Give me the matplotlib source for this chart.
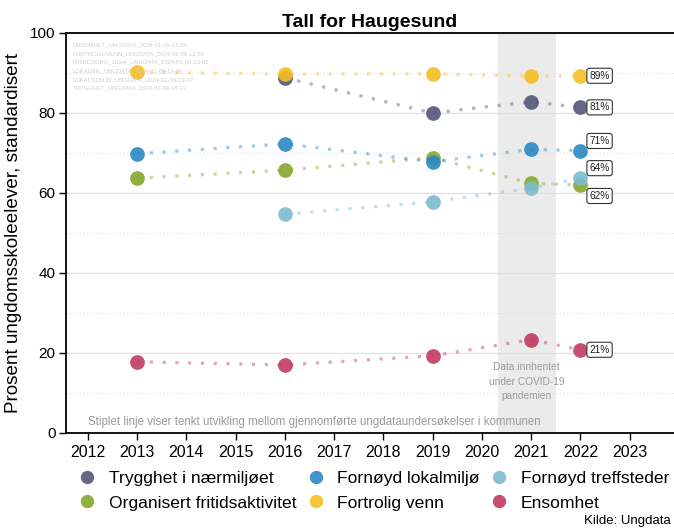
import matplotlib
matplotlib.use("Agg")
import matplotlib.pyplot as plt
from matplotlib.lines import Line2D

plt.rcParams["font.family"] = ["Liberation Sans", "DejaVu Sans"]

# survey years and series (percent, standardised)
years_a = [2013, 2016, 2019, 2021, 2022]
years_b = [2016, 2019, 2021, 2022]

trygghet = [88.8, 80.0, 82.8, 81.4]          # 2016..2022
organisert = [63.7, 65.7, 68.8, 62.4, 62.0]  # 2013..2022
lokalmiljo = [69.8, 72.3, 67.8, 70.9, 70.6]
fortrolig = [90.2, 89.7, 89.8, 89.2, 89.2]
treffsteder = [54.7, 57.8, 61.2, 63.7]       # 2016..2022
ensomhet = [17.8, 17.0, 19.3, 23.3, 20.8]

series_names = ["Trygghet i nærmiljøet", "Organisert fritidsaktivitet",
                "Fornøyd lokalmiljø", "Fortrolig venn",
                "Fornøyd treffsteder", "Ensomhet"]
end_labels = ["81%", "62%", "71%", "89%", "64%", "21%"]

watermark = [
    "ENSOMHET_UNGDATA_2024-01-09-12-50",
    "FORTROLIGVENN_UNGDATA_2024-01-09-12-58",
    "FRITIDSORG_10aar_UNGDATA_2024-01-09-13-01",
    "LOKALMIL_UNGDATA_2024-01-09-13-06",
    "LOKALTILBUD_UNGDATA_2024-01-09-13-07",
    "TRYGGHET_UNGDATA_2024-01-09-18-22",
]

colors = ["#55557a", "#86a82b", "#2a88c4", "#f7bd22", "#7dbbd1", "#c23a62"]
# vertical nudges so end labels do not overlap
label_nudge = [0.0, -2.75, 2.4, 0.1, 2.5, 0.0]


def main():
    data = [(years_b, trygghet), (years_a, organisert), (years_a, lokalmiljo),
            (years_a, fortrolig), (years_b, treffsteder), (years_a, ensomhet)]

    fig = plt.figure(figsize=(6.74, 5.31), dpi=100)
    ax = fig.add_axes([0.098, 0.1846, 0.902, 0.7533])

    ax.axvspan(2020.32, 2021.5, color="#ebebeb", zorder=0, lw=0)

    ax.set_yticks([0, 20, 40, 60, 80, 100])
    ax.set_yticks([10, 30, 50, 70, 90], minor=True)
    ax.grid(axis="y", which="major", color="#e0e0e0", lw=0.9, zorder=0.5)
    ax.grid(axis="y", which="minor", color="#e0e0e0", lw=0.8, ls=(0, (1, 2)), zorder=0.5)
    ax.tick_params(axis="y", which="minor", length=0)

    for (x, y), c in zip(data, colors):
        ax.plot(x, y, color=c, lw=2.3, ls=(0, (1, 3.0)), alpha=0.45,
                dash_capstyle="butt", zorder=2)
        ax.scatter(x, y, s=112, color=c, alpha=0.9, lw=0, zorder=3)

    for (x, y), c, lab, dy in zip(data, colors, end_labels, label_nudge):
        ax.annotate(lab, (x[-1], y[-1] + dy), xytext=(6.5, 0), textcoords="offset points",
                    ha="left", va="center", fontsize=7.3, color="#222222",
                    bbox=dict(boxstyle="round,pad=0.25,rounding_size=0.25",
                              fc="white", ec="#333333", lw=0.8), zorder=5)

    for i, t in enumerate(watermark):
        ax.text(0.011, 0.97 - i * 0.0215, t, transform=ax.transAxes,
                fontsize=4.2, color="#cfcfcf", va="center", ha="left")

    ax.text(2020.91, 12.8, "Data innhentet\nunder COVID-19\npandemien", ha="center",
            va="center", fontsize=7.3, color="#9a9a9a", linespacing=1.55)
    ax.text(2012.0, 2.8, "Stiplet linje viser tenkt utvikling mellom gjennomførte "
            "ungdataundersøkelser i kommunen", fontsize=8.3, color="#9a9a9a",
            va="center", ha="left")

    ax.set_xlim(2011.56, 2023.9)
    ax.set_ylim(0, 100)
    ax.set_xticks(range(2012, 2024))
    ax.tick_params(axis="both", length=5, width=1, color="black")
    ax.tick_params(axis="x", labelsize=11.5)
    ax.tick_params(axis="y", labelsize=11, pad=2.5)
    ax.spines["right"].set_visible(False)
    for s in ["left", "bottom", "top"]:
        ax.spines[s].set_linewidth(1.3)
    ax.set_ylabel("Prosent ungdomsskoleelever, standardisert", fontsize=13.6,
                  labelpad=6)
    ax.set_title("Tall for Haugesund", fontsize=14, fontweight="bold", pad=4)

    handles = [Line2D([], [], ls="none", marker="o", ms=9.6, color=c, alpha=0.9,
                      markeredgewidth=0) for c in colors]
    fig.legend(handles, series_names, ncol=3, loc="upper left",
               bbox_to_anchor=(72.8 / 674, 1 - 471 / 531), frameon=False, fontsize=12.6,
               handletextpad=0.45, columnspacing=0.3, labelspacing=0.52,
               handlelength=1.6, borderpad=0, borderaxespad=0)
    fig.text(0.995, 0.008, "Kilde: Ungdata", ha="right", va="bottom", fontsize=9.5)

    fig.savefig("out.png", dpi=100)


if __name__ == "__main__":
    main()
